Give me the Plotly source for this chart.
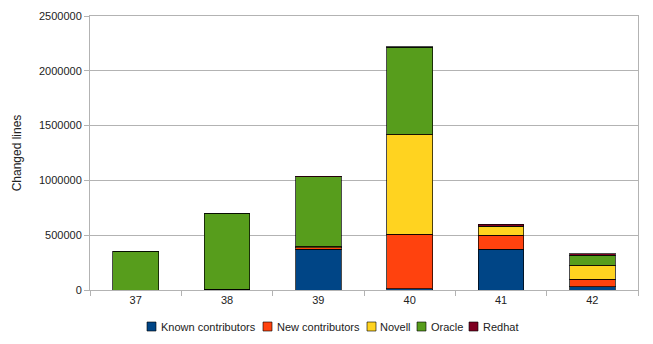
import plotly.graph_objects as go

categories = ["37", "38", "39", "40", "41", "42"]
known = [0, 5000, 370000, 10000, 370000, 30000]
new = [0, 0, 15000, 500000, 128000, 70000]
novell = [0, 0, 12000, 910000, 79000, 125000]
oracle = [355000, 695000, 638000, 797000, 6000, 92000]
redhat = [0, 0, 5000, 4000, 17000, 12000]

series = [
    ("Known contributors", known, "#004586"),
    ("New contributors", new, "#ff420e"),
    ("Novell", novell, "#ffd320"),
    ("Oracle", oracle, "#579d1c"),
    ("Redhat", redhat, "#7e0021"),
]

W, H = 653, 344
L, R, T, B = 90, 15, 16, 54
PW, PH = W - L - R, H - T - B

def px_x(px):
    return (px - L) / PW

def px_y(py):
    return (H - B - py) / PH

fig = go.Figure()
for name, vals, col in series:
    fig.add_trace(go.Bar(
        x=categories, y=vals, name=name, showlegend=False,
        marker=dict(color=col, line=dict(color="rgba(0,0,0,0.7)", width=1)),
    ))

# manual compact legend (LibreOffice style)
leg_sq = [147, 263, 367, 417, 469]
leg_tx = [159, 275, 378, 429, 481]
shapes, annots = [], []
for (name, _, col), sx, tx in zip(series, leg_sq, leg_tx):
    shapes.append(dict(type="rect", xref="paper", yref="paper",
                       x0=px_x(sx), x1=px_x(sx + 9), y0=px_y(331), y1=px_y(322),
                       fillcolor=col, line=dict(color="rgba(0,0,0,0.6)", width=1)))
    annots.append(dict(text=name, xref="paper", yref="paper", x=px_x(tx), y=px_y(326.5),
                       xanchor="left", yanchor="middle", showarrow=False,
                       font=dict(size=11, color="#222")))

fig.update_layout(
    barmode="stack",
    bargap=0.5,
    width=W, height=H,
    margin=dict(l=L, r=R, t=T, b=B, autoexpand=False),
    paper_bgcolor="white", plot_bgcolor="white",
    font=dict(family="Liberation Sans, Arial, sans-serif", size=11, color="#222"),
    showlegend=False,
    shapes=shapes, annotations=annots,
    xaxis=dict(type="category", showline=True, linecolor="#b3b3b3", linewidth=1,
               mirror=True, ticks="outside", tickson="boundaries", ticklen=5,
               tickcolor="#b3b3b3", showgrid=False),
    yaxis=dict(range=[0, 2500000], dtick=500000, showline=True, linecolor="#b3b3b3",
               linewidth=1, mirror=True, ticks="outside", ticklen=5, tickcolor="#b3b3b3",
               gridcolor="#b3b3b3", gridwidth=1, tickformat="d",
               title=dict(text="Changed lines", font=dict(size=12), standoff=14),
               zeroline=False),
)

fig.write_html("out.html")
